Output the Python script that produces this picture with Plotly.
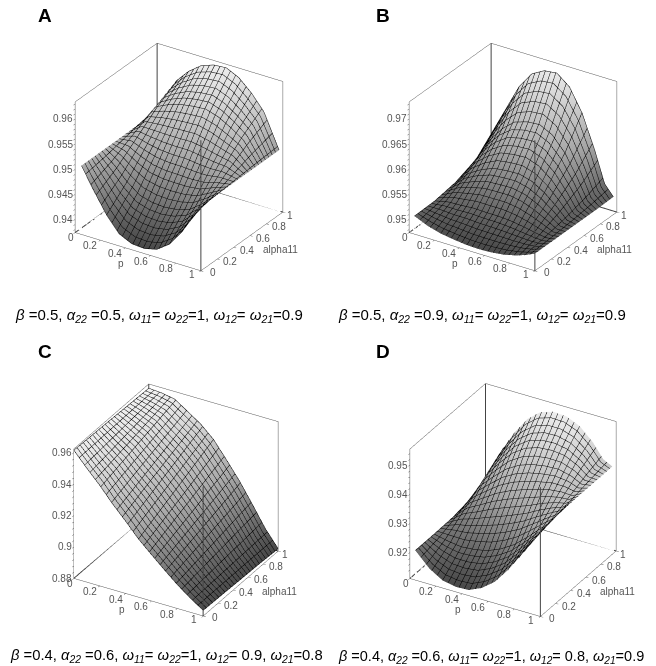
import plotly.graph_objects as go

# p and alpha11 sample positions
p_a = [.05, .15, .25, .35, .45, .55, .65, .75, .85, .97]
a_a = [0, .25, .5, .75, 1]
z_a = [
    [.9511, .9468, .9428, .9398, .9386, .9384, .9390, .9408, .9440, .9495],
    [.9511, .9490, .9465, .9446, .9439, .9437, .9440, .9448, .9467, .9495],
    [.9511, .9519, .9512, .9507, .9505, .9505, .9502, .9500, .9501, .9495],
    [.9511, .9548, .9560, .9568, .9572, .9574, .9566, .9552, .9535, .9495],
    [.9511, .9570, .9597, .9616, .9625, .9627, .9615, .9592, .9562, .9495],
]
p_b = [.04, .15, .25, .35, .45, .55, .65, .75, .85, .93, 1]
a_b = [0, .25, .5, .75, .96]
z_b = [
    [.9510, .9498, .9491, .9487, .9484, .9483, .9484, .9487, .9493, .9500, .9508],
    [.9511, .9517, .9518, .9520, .9519, .9519, .9517, .9513, .9508, .9505, .9508],
    [.9518, .9545, .9560, .9570, .9573, .9574, .9567, .9552, .9531, .9511, .9508],
    [.9534, .9581, .9612, .9633, .9641, .9643, .9630, .9602, .9559, .9520, .9508],
    [.9567, .9622, .9672, .9705, .9719, .9722, .9702, .9658, .9592, .9530, .9509],
]
p_c = [0, .1, .2, .3, .4, .5, .6, .7, .8, .9, 1]
a_c = [0, .25, .5, .75, 1]
z_c = [
    [.9615, .9525, .9440, .9345, .9260, .9170, .9095, .9022, .8952, .8890, .8836],
    [.9610, .9541, .9474, .9390, .9312, .9225, .9143, .9060, .8977, .8897, .8832],
    [.9606, .9558, .9508, .9433, .9363, .9280, .9190, .9098, .9001, .8905, .8827],
    [.9601, .9574, .9541, .9477, .9414, .9335, .9238, .9136, .9026, .8912, .8823],
    [.9596, .9590, .9575, .9520, .9465, .9390, .9285, .9175, .9050, .8920, .8815],
]
p_d = [.04, .15, .25, .35, .45, .55, .65, .75, .85, .93, 1]
a_d = [0, .25, .5, .75, .95]
z_d = [
    [.9213, .9164, .9137, .9128, .9130, .9150, .9184, .9237, .9300, .9354, .9410],
    [.9213, .9202, .9196, .9200, .9209, .9228, .9255, .9293, .9335, .9369, .9410],
    [.9214, .9260, .9284, .9309, .9329, .9346, .9361, .9378, .9388, .9391, .9411],
    [.9225, .9317, .9371, .9418, .9448, .9463, .9467, .9462, .9441, .9413, .9411],
    [.9253, .9355, .9430, .9490, .9527, .9541, .9538, .9518, .9476, .9428, .9412],
]

panel_letters = ["A", "B", "C", "D"]
captions = [
    "<i>β</i> =0.5, <i>α<sub>22</sub></i> =0.5, <i>ω<sub>11</sub></i>= <i>ω<sub>22</sub></i>=1, <i>ω<sub>12</sub></i>= <i>ω<sub>21</sub></i>=0.9",
    "<i>β</i> =0.5, <i>α<sub>22</sub></i> =0.9, <i>ω<sub>11</sub></i>= <i>ω<sub>22</sub></i>=1, <i>ω<sub>12</sub></i>= <i>ω<sub>21</sub></i>=0.9",
    "<i>β</i> =0.4, <i>α<sub>22</sub></i> =0.6, <i>ω<sub>11</sub></i>= <i>ω<sub>22</sub></i>=1, <i>ω<sub>12</sub></i>= 0.9, <i>ω<sub>21</sub></i>=0.8",
    "<i>β</i> =0.4, <i>α<sub>22</sub></i> =0.6, <i>ω<sub>11</sub></i>= <i>ω<sub>22</sub></i>=1, <i>ω<sub>12</sub></i>= 0.8, <i>ω<sub>21</sub></i>=0.9",
]
z_ranges = [[.9374, .9634], [.9474, .9734], [.88, .9623], [.9111, .9555]]
z_ticks = [
    [.94, .945, .95, .955, .96],
    [.95, .955, .96, .965, .97],
    [.88, .90, .92, .94, .96],
    [.92, .93, .94, .95],
]
z_minor_step = [.001, .001, .004, .002]
axis_ticks = [0, .2, .4, .6, .8, 1]
data = [(p_a, a_a, z_a), (p_b, a_b, z_b), (p_c, a_c, z_c), (p_d, a_d, z_d)]

W, H = 656, 666
# the page body offsets the figure by 8 px, so paper positions below allow for it
centers = [(171, 149), (505, 149), (168, 492), (505, 492)]
eyes = [(.483, -.741, .467), (.483, -.741, .467), (.437, -.754, .506), (.437, -.754, .506)]
box_xy = [1.072, 1.072, 1.068, 1.078]
box_z = [1.055, 1.055, 1.069, 1.069]
HALF = 140
letter_xy = [(37, 7), (375, 7), (37, 343), (375, 343)]
caption_xy = [(5, 307), (328, 307), (0, 648), (328, 649)]
caption_size = [15, 15, 14.8, 14.5]

gray = "#555555"
FONT = "Liberation Sans"
tick_font = dict(size=10, color=gray, family=FONT)

fig = go.Figure()
layout = {}
ann = []


def axis(rng, ticks):
    return dict(
        title=dict(text=""), range=rng, tickvals=ticks, showticklabels=False,
        showgrid=False, zeroline=False, showbackground=False, showspikes=False,
        showline=True, linecolor=gray, linewidth=1, mirror=True,
        ticks="outside", ticklen=3, tickcolor=gray, tickwidth=1,
    )


def label(text, x, y, z, dx, dy, xanchor="center", font=tick_font):
    return dict(text=text, x=x, y=y, z=z, xshift=dx, yshift=-dy, showarrow=False,
                xanchor=xanchor, yanchor="middle", font=font)


for i, (p, a, z) in enumerate(data):
    sid = "scene" if i == 0 else f"scene{i+1}"
    flat = [v for row in z for v in row]
    fig.add_trace(go.Surface(
        x=p, y=a, z=z, scene=sid, showscale=False, hoverinfo="skip",
        cmin=min(flat), cmax=max(flat),
        colorscale=[[0, "#4a4a4a"], [.5, "#b0b0b0"], [1, "#f6f6f6"]],
        lighting=dict(ambient=.95, diffuse=.05, specular=0, roughness=1, fresnel=0),
        contours=dict(
            x=dict(show=True, start=0, end=1, size=1 / 24, color="#000000", width=1),
            y=dict(show=True, start=0, end=1, size=1 / 24, color="#000000", width=1),
        ),
    ))
    zmin, zmax = z_ranges[i]
    # the four box edges that the axis lines leave out
    fig.add_trace(go.Scatter3d(
        x=[1, 1, None, 0, 0, None, 0, 1, None, 0, 0],
        y=[0, 0, None, 1, 1, None, 1, 1, None, 0, 1],
        z=[zmin, zmax, None, zmin, zmax, None, zmin, zmin, None, zmin, zmin],
        mode="lines", line=dict(color="#444444", width=2), scene=sid, hoverinfo="skip", showlegend=False,
    ))
    cx, cy = centers[i]
    e = eyes[i]
    step = z_minor_step[i]
    zt = sorted(set(z_ticks[i] + [round(z_ticks[i][0] + k * step, 4) for k in range(-3, 40)
                                  if zmin <= z_ticks[i][0] + k * step <= zmax]))
    zlab = zmin + .00005
    scene_ann = []
    for t in axis_ticks:
        txt = f"{t:g}"
        dx, dy = (-4, 5) if t == 0 else (-9, 4) if t == 1 else (-10, 6)
        scene_ann.append(label(txt, t, 0, zlab, dx, dy))
        dx, dy = (12, 2) if t == 0 else (7, 4) if t == 1 else (13, 3)
        scene_ann.append(label(txt, 1, t, zlab, dx, dy))
    for t in z_ticks[i]:
        scene_ann.append(label(f"{t:g}", 0, 0, max(t, zlab), 0, 0, xanchor="right"))
    scene_ann.append(label("p", .5, 0, zlab, -17, 12))
    scene_ann.append(label("alpha11", 1, .5, zlab, 39, 8))
    layout[sid] = dict(
        domain=dict(x=[(cx - HALF) / W, (cx + HALF) / W], y=[1 - (cy + HALF) / H, 1 - (cy - HALF) / H]),
        xaxis=axis([0, 1], axis_ticks), yaxis=axis([0, 1], axis_ticks), zaxis=axis(z_ranges[i], zt),
        aspectmode="manual", aspectratio=dict(x=box_xy[i], y=box_xy[i], z=box_z[i]),
        camera=dict(eye=dict(x=e[0], y=e[1], z=e[2]), center=dict(x=0, y=0, z=0),
                    up=dict(x=0, y=0, z=1), projection=dict(type="orthographic")),
        annotations=scene_ann,
    )
    lx, ly = letter_xy[i]
    ann.append(dict(text=f"<b>{panel_letters[i]}</b>", x=lx / W, y=1 - ly / H, xref="paper", yref="paper",
                    xanchor="center", yanchor="middle", showarrow=False,
                    font=dict(size=19, color="black", family=FONT)))
    qx, qy = caption_xy[i]
    ann.append(dict(text=captions[i], x=qx / W, y=1 - qy / H, xref="paper", yref="paper",
                    xanchor="left", yanchor="middle", showarrow=False,
                    font=dict(size=caption_size[i], color="black", family=FONT)))

fig.update_layout(width=W, height=H, margin=dict(l=0, r=0, t=0, b=0), paper_bgcolor="white",
                  showlegend=False, annotations=ann, **layout)
fig.write_html("out.html")
